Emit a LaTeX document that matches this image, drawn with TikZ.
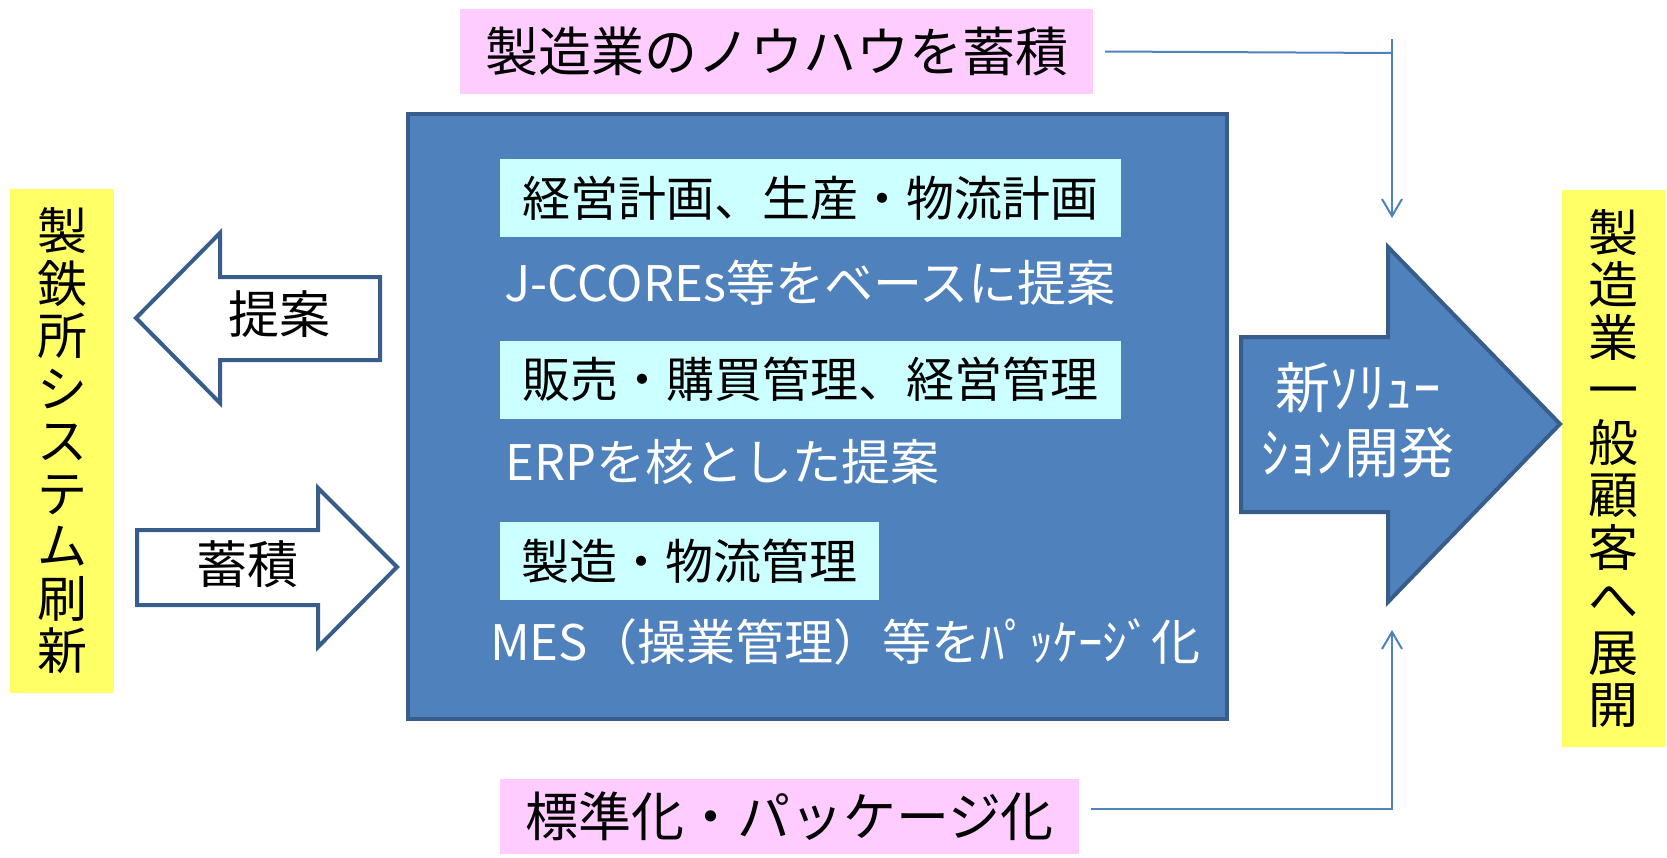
\documentclass[tikz,border=0pt]{standalone}
\usepackage{fontspec}
\setmainfont{Noto Sans CJK JP}
\usetikzlibrary{arrows.meta}
\definecolor{mainblue}{HTML}{4F81BD}
\definecolor{edgeblue}{HTML}{385D8A}
\definecolor{cyanbg}{HTML}{CCFFFF}
\definecolor{pinkbg}{HTML}{FFCCFF}
\definecolor{yellowbg}{HTML}{FFFF66}
\begin{document}
\begin{tikzpicture}[x=1pt,y=-1pt,
  notebox/.style={fill=pinkbg, inner sep=0pt, text=black, font=\fontsize{53}{53}\selectfont},
  sidecol/.style={fill=yellowbg, inner sep=0pt, align=center, text=black, font=\fontsize{50}{52.5}\selectfont},
  corebox/.style={fill=mainblue, draw=edgeblue, line width=4pt, inner sep=0pt},
  itembox/.style={fill=cyanbg, inner sep=0pt, text=black, font=\fontsize{48}{48}\selectfont},
  whitetext/.style={inner sep=0pt, anchor=west, text=white, font=\fontsize{49}{49}\selectfont},
  arrowshape/.style={draw=edgeblue, line width=4pt, fill=white},
  bigarrow/.style={draw=edgeblue, line width=4pt, fill=mainblue},
  arrowlabel/.style={inner sep=0pt, text=black, font=\fontsize{51}{51}\selectfont},
  conn/.style={draw=mainblue, line width=2pt},
  connarrow/.style={conn, -{Straight Barb[length=17pt,width=20pt,line width=2pt]}}
]
\useasboundingbox (0,0) rectangle (1667,857);

% side columns
\node[sidecol, minimum width=104pt, minimum height=504pt] (leftcol) at (62,441)
  {製\\鉄\\所\\シ\\ス\\テ\\ム\\刷\\新};
\node[sidecol, minimum width=103pt, minimum height=557pt] (rightcol) at (1613.5,468.5)
  {製\\造\\業\\一\\般\\顧\\客\\へ\\展\\開};

% top and bottom notes
\node[notebox, minimum width=633pt, minimum height=85pt] (topnote) at (776.5,51.5) {製造業のノウハウを蓄積};
\node[notebox, minimum width=579pt, minimum height=75pt] (botnote) at (789.5,816.5) {標準化・パッケージ化};

% main box
\node[corebox, minimum width=819pt, minimum height=605pt] (core) at (817.5,416.5) {};
\node[itembox, minimum width=621pt, minimum height=78pt] (item1) at (810.5,198) {経営計画、生産・物流計画};
\node[whitetext] (desc1) at (504,283) {J-CCOREs等をベースに提案};
\node[itembox, minimum width=621pt, minimum height=78pt] (item2) at (810.5,379.5) {販売・購買管理、経営管理};
\node[whitetext] (desc2) at (505,462) {ERPを核とした提案};
\node[itembox, minimum width=379pt, minimum height=78pt] (item3) at (689.5,561) {製造・物流管理};
\node[whitetext] (desc3) at (490,642) {MES（操業管理）等をﾊﾟｯｹｰｼﾞ化};

% left arrows
\draw[arrowshape] (136,318) -- (220,233) -- (220,277) -- (380,277) -- (380,360) -- (220,360) -- (220,403) -- cycle;
\node[arrowlabel] (propose) at (279,314) {提案};
\draw[arrowshape] (137,530) -- (318,530) -- (318,488) -- (397,567) -- (318,647) -- (318,605) -- (137,605) -- cycle;
\node[arrowlabel] (accum) at (247,564) {蓄積};

% big arrow
\draw[bigarrow] (1241,337) -- (1388,337) -- (1388,247) -- (1560,424) -- (1388,602) -- (1388,512) -- (1241,512) -- cycle;
\node[inner sep=0pt, align=center, text=white, font=\fontsize{55}{65}\selectfont] (newsol) at (1358,420) {新ｿﾘｭｰ\\ｼｮﾝ開発};

% connectors
\coordinate (topjoin) at (1392,53);
\coordinate (topstart) at (1392,39);
\coordinate (topend) at (1392,218);
\coordinate (botend) at (1392,630);
\draw[conn] ([xshift=12pt]topnote.east) -- (topjoin);
\draw[connarrow] (topstart) -- (topend);
\draw[connarrow] ([xshift=12pt,yshift=8pt]botnote.east) -| (botend);
\end{tikzpicture}
\end{document}
